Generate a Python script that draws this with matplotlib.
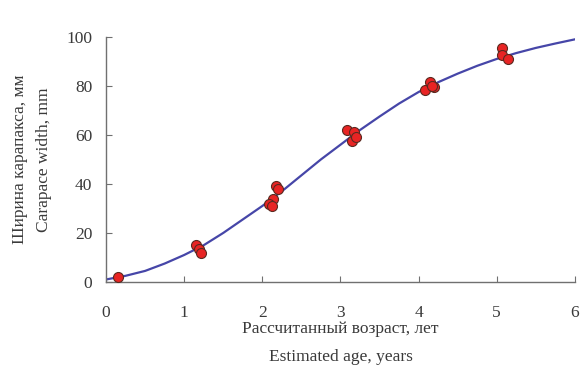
import numpy as np
import matplotlib
matplotlib.use("Agg")
import matplotlib.pyplot as plt

# fitted growth curve
curve_age = [0, 0.25, 0.5, 0.75, 1, 1.25, 1.5, 1.75, 2, 2.25, 2.5, 2.75, 3,
             3.25, 3.5, 3.75, 4, 4.25, 4.5, 4.75, 5, 5.25, 5.5, 5.75, 6]
curve_width = [1.0, 2.5, 4.5, 7.5, 11, 15, 20, 25.5, 31, 37, 43.5, 50, 56,
               62, 67.5, 72.8, 77.5, 81.5, 85, 88.2, 91, 93.4, 95.5, 97.3, 99]

# observed crabs
obs_age = [0.15, 1.15, 1.19, 1.21, 2.17, 2.2, 2.14, 2.09, 2.12,
           3.08, 3.17, 3.15, 3.2, 4.08, 4.15, 4.2, 4.17,
           5.07, 5.07, 5.15]
obs_width = [2, 15, 13.5, 12, 39, 38, 34, 32, 31,
             62, 61, 57.5, 59, 78.5, 81.5, 79.5, 80,
             95.5, 92.5, 91]

plt.rcParams['font.family'] = ['Liberation Serif', 'DejaVu Serif']

fig = plt.figure(figsize=(5.83, 3.69), dpi=100)
ax = fig.add_axes([0.182, 0.236, 0.804, 0.664])

ax.plot(curve_age, curve_width, color='#4646a8', lw=1.6, zorder=2)
ax.plot(obs_age, obs_width, 'o', ms=7.2, mfc='#e82424', mec='#5a2a20',
        mew=0.8, zorder=3, clip_on=False)

ax.set_xlim(0, 6)
ax.set_ylim(0, 100)
ax.set_xticks(range(0, 7))
ax.set_yticks(range(0, 101, 20))

for s in ['top', 'right']:
    ax.spines[s].set_visible(False)
for s in ['left', 'bottom']:
    ax.spines[s].set_color('#707070')
    ax.spines[s].set_linewidth(1.0)

ax.tick_params(direction='in', length=4, colors='#707070', labelcolor='#3a3a3a',
               labelsize=12.5)
ax.tick_params(axis='x', pad=16.5)
ax.tick_params(axis='y', pad=10)

ax.set_xlabel("Рассчитанный возраст, лет\nEstimated age, years",
              fontsize=12.5, color='#3a3a3a', linespacing=2.0, labelpad=0)
ax.set_ylabel("Ширина карапакса, мм\nCarapace width, mm",
              fontsize=12.5, color='#3a3a3a', linespacing=1.73, labelpad=10)

fig.savefig("out.png", dpi=100, facecolor='white')
